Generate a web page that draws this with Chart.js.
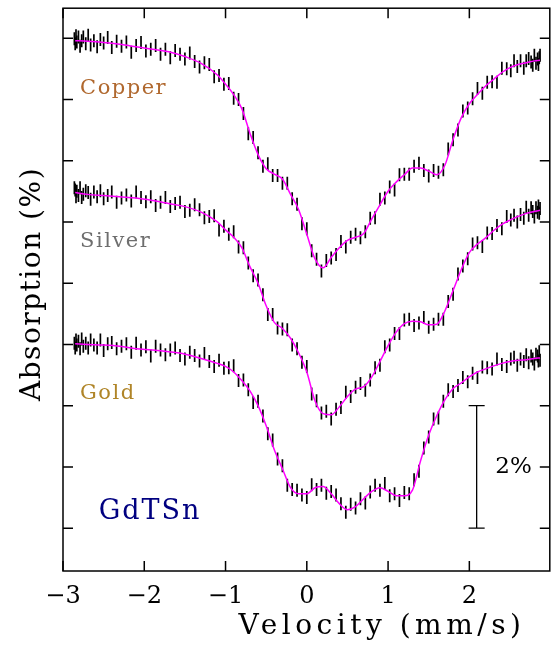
<!DOCTYPE html>
<html lang="en">
<head>
<meta charset="UTF-8" />
<title>GdTSn Mossbauer spectra</title>
<script src="https://cdn.jsdelivr.net/npm/chart.js"></script>
<style>
  body { margin: 0; background: #fff; }
  canvas { display: block; }
</style>
</head>
<body>
<canvas id="spectra" width="558" height="648"></canvas>
<script>
  // measured channels (velocity in mm/s), absorption offsets in %
  const velocity = [-2.86,-2.85,-2.84,-2.83,-2.81,-2.79,-2.77,-2.75,-2.72,-2.69,
    -2.66,-2.62,-2.58,-2.54,-2.50,-2.45,-2.40,-2.34,-2.28,-2.22,
    -2.16,-2.10,-2.04,-1.98,-1.92,-1.86,-1.80,-1.74,-1.68,-1.62,
    -1.56,-1.50,-1.44,-1.38,-1.32,-1.26,-1.20,-1.14,-1.08,-1.02,
    -0.96,-0.90,-0.84,-0.78,-0.72,-0.66,-0.60,-0.54,-0.48,-0.42,
    -0.36,-0.30,-0.24,-0.18,-0.12,-0.06,0.00,0.06,0.12,0.18,
    0.24,0.30,0.36,0.42,0.48,0.54,0.60,0.66,0.72,0.78,
    0.84,0.90,0.96,1.02,1.08,1.14,1.20,1.26,1.32,1.38,
    1.44,1.50,1.56,1.62,1.68,1.74,1.80,1.86,1.92,1.98,
    2.04,2.10,2.16,2.22,2.28,2.34,2.40,2.46,2.51,2.55,
    2.59,2.63,2.67,2.70,2.73,2.76,2.78,2.80,2.82,2.84,
    2.85,2.86,2.87];

  const copperAbs = [7.99,7.91,8.04,7.94,8.02,7.87,7.96,8.02,7.91,8.05,
    7.89,7.96,7.86,7.98,7.92,8.01,7.85,7.95,7.87,7.94,
    7.77,7.88,7.93,7.79,7.82,7.88,7.74,7.82,7.68,7.80,
    7.74,7.66,7.76,7.62,7.53,7.60,7.57,7.37,7.39,7.25,
    7.26,7.02,7.00,6.77,6.44,6.38,6.13,5.91,5.95,5.76,
    5.76,5.63,5.63,5.38,5.29,4.97,4.89,4.53,4.39,4.20,
    4.37,4.41,4.47,4.68,4.59,4.75,4.80,4.74,4.84,5.06,
    5.07,5.37,5.39,5.57,5.52,5.77,5.78,5.78,5.91,5.96,
    5.84,5.75,5.84,5.81,5.85,6.19,6.34,6.50,6.81,6.86,
    7.01,7.18,7.10,7.28,7.29,7.28,7.51,7.50,7.47,7.63,
    7.54,7.63,7.51,7.63,7.67,7.61,7.56,7.72,7.59,7.66,
    7.57,7.68,7.72];

  const silverAbs = [5.56,5.52,5.41,5.50,5.43,5.56,5.40,5.45,5.51,5.48,
    5.37,5.49,5.41,5.51,5.38,5.43,5.49,5.32,5.39,5.44,
    5.34,5.49,5.40,5.33,5.41,5.27,5.32,5.40,5.25,5.30,
    5.32,5.17,5.19,5.28,5.20,5.07,5.09,5.10,4.87,4.93,
    4.80,4.84,4.59,4.58,4.33,4.12,4.05,3.81,3.49,3.49,
    3.27,3.25,3.24,2.99,2.93,2.71,2.64,2.19,2.08,1.88,
    1.91,1.78,1.94,1.97,2.22,2.15,2.30,2.36,2.25,2.42,
    2.62,2.66,2.96,2.99,3.18,3.18,3.40,3.41,3.31,3.35,
    3.44,3.28,3.33,3.41,3.41,3.70,3.82,4.15,4.28,4.40,
    4.64,4.66,4.60,4.82,4.81,4.94,4.89,5.09,5.03,5.11,
    5.00,5.12,5.06,5.24,5.11,5.23,5.17,5.08,5.23,5.16,
    5.26,5.14,5.22];

  const goldAbs = [3.02,2.94,3.07,2.99,3.05,2.93,3.09,2.97,3.02,2.94,
    3.07,2.99,2.94,3.07,2.90,3.01,3.03,2.93,2.97,3.01,
    2.87,3.02,2.91,2.96,2.81,2.97,2.91,2.83,2.91,2.94,
    2.82,2.76,2.87,2.82,2.73,2.85,2.72,2.64,2.74,2.61,
    2.62,2.65,2.41,2.42,2.26,2.05,2.07,1.83,1.54,1.44,
    1.13,1.02,0.70,0.63,0.62,0.54,0.50,0.71,0.63,0.70,
    0.57,0.60,0.54,0.40,0.26,0.39,0.33,0.48,0.41,0.59,
    0.70,0.62,0.73,0.53,0.56,0.45,0.58,0.56,0.79,0.93,
    1.31,1.49,1.78,1.80,2.07,2.26,2.23,2.33,2.46,2.39,
    2.53,2.46,2.63,2.62,2.60,2.76,2.67,2.64,2.76,2.79,
    2.66,2.76,2.72,2.83,2.70,2.81,2.76,2.68,2.84,2.81,
    2.73,2.88,2.74];

  // fitted curves
  const fitVelocity = [-2.85,-2.7,-2.5,-2.3,-2.1,-1.9,-1.7,-1.5,-1.3,-1.1,
    -1.0,-0.9,-0.8,-0.7,-0.6,-0.5,-0.4,-0.3,-0.2,-0.1,
    0.0,0.1,0.2,0.3,0.4,0.5,0.6,0.7,0.8,0.9,
    1.0,1.1,1.2,1.3,1.4,1.5,1.6,1.7,1.8,1.9,
    2.0,2.1,2.2,2.3,2.4,2.5,2.6,2.7,2.8,2.87];
  const copperFit = [7.96,7.95,7.93,7.90,7.86,7.82,7.78,7.70,7.59,7.40,
    7.25,7.08,6.85,6.45,6.10,5.87,5.78,5.70,5.45,5.20,
    4.80,4.40,4.25,4.42,4.58,4.70,4.75,4.81,5.05,5.28,
    5.50,5.65,5.77,5.88,5.88,5.83,5.77,5.93,6.35,6.70,
    6.93,7.08,7.22,7.33,7.44,7.52,7.57,7.60,7.63,7.64];
  const silverFit = [5.48,5.45,5.43,5.41,5.39,5.35,5.30,5.25,5.16,5.00,
    4.87,4.75,4.58,4.27,4.00,3.63,3.36,3.26,3.10,2.86,
    2.55,2.08,1.87,1.85,1.98,2.15,2.27,2.31,2.47,2.72,
    2.98,3.20,3.34,3.38,3.37,3.32,3.33,3.55,3.88,4.22,
    4.50,4.64,4.74,4.86,4.96,5.03,5.09,5.14,5.17,5.19];
  const goldFit = [3.01,3.00,2.99,2.97,2.93,2.91,2.88,2.84,2.77,2.69,
    2.64,2.55,2.41,2.24,2.00,1.67,1.28,0.97,0.66,0.56,
    0.56,0.66,0.68,0.56,0.40,0.30,0.35,0.48,0.60,0.66,
    0.60,0.53,0.53,0.62,1.10,1.52,1.84,2.10,2.28,2.37,
    2.47,2.55,2.60,2.65,2.69,2.72,2.74,2.75,2.77,2.78];

  const xTickValues = [-3, -2, -1, 0, 1, 2];
  const yTickValues = [0, 1, 2, 3, 4, 5, 6, 7, 8];
  const sampleNames = ['Copper', 'Silver', 'Gold'];
  const compound = 'GdTSn';
  const scaleBarPct = 2;

  const serif = '"DejaVu Serif", serif';
  const pts = (xs, ys) => xs.map((x, i) => ({ x, y: ys[i] }));

  const dataStyle = {
    type: 'scatter', order: 1,
    pointStyle: 'line', rotation: 90, radius: 6.5, hoverRadius: 6.5,
    borderColor: '#000', borderWidth: 1.7, backgroundColor: '#000'
  };
  const fitStyle = {
    type: 'line', order: 0, pointRadius: 0, borderColor: '#ff00ff',
    borderWidth: 1.5, fill: false, cubicInterpolationMode: 'monotone'
  };

  const decorations = {
    id: 'decorations',
    afterDraw(chart) {
      const { ctx, chartArea: a, scales: { x, y } } = chart;
      ctx.save();
      // frame with inward ticks
      ctx.strokeStyle = '#000';
      ctx.lineWidth = 1.5;
      ctx.strokeRect(a.left, a.top, a.right - a.left, a.bottom - a.top);
      ctx.beginPath();
      x.ticks.forEach(t => {
        const px = x.getPixelForValue(t.value);
        ctx.moveTo(px, a.bottom); ctx.lineTo(px, a.bottom - 10);
        ctx.moveTo(px, a.top); ctx.lineTo(px, a.top + 10);
      });
      y.ticks.forEach(t => {
        const py = y.getPixelForValue(t.value);
        ctx.moveTo(a.left, py); ctx.lineTo(a.left + 10, py);
        ctx.moveTo(a.right, py); ctx.lineTo(a.right - 10, py);
      });
      ctx.stroke();

      // 2% scale bar
      const bx = x.getPixelForValue(2.09);
      const b0 = y.getPixelForValue(0), b1 = y.getPixelForValue(scaleBarPct);
      ctx.lineWidth = 1.3;
      ctx.beginPath();
      ctx.moveTo(bx, b0); ctx.lineTo(bx, b1);
      ctx.moveTo(bx - 8, b0); ctx.lineTo(bx + 8, b0);
      ctx.moveTo(bx - 8, b1); ctx.lineTo(bx + 8, b1);
      ctx.stroke();
      ctx.fillStyle = '#000';
      ctx.font = '23px ' + serif;
      ctx.textBaseline = 'middle';
      ctx.textAlign = 'left';
      ctx.fillText(scaleBarPct + '%', x.getPixelForValue(2.32), y.getPixelForValue(1.0));

      // sample names
      ctx.font = '21px ' + serif;
      ctx.letterSpacing = '1.5px';
      const nameColors = ['#b0682e', '#6e6e6e', '#b08528'];
      const nameY = [7.18, 4.68, 2.19];
      sampleNames.forEach((n, i) => {
        ctx.fillStyle = nameColors[i];
        ctx.fillText(n, x.getPixelForValue(-2.79), y.getPixelForValue(nameY[i]));
      });
      ctx.font = '27px ' + serif;
      ctx.letterSpacing = '2px';
      ctx.fillStyle = '#000080';
      ctx.fillText(compound, x.getPixelForValue(-2.56), y.getPixelForValue(0.26));

      // axis titles
      ctx.fillStyle = '#000';
      ctx.font = '28px ' + serif;
      ctx.letterSpacing = '4.5px';
      ctx.textAlign = 'center';
      ctx.fillText('Velocity (mm/s)', 382, 627);
      ctx.letterSpacing = '1.5px';
      ctx.translate(33, 284);
      ctx.rotate(-Math.PI / 2);
      ctx.fillText('Absorption (%)', 0, 0);
      ctx.restore();
    }
  };

  new Chart(document.getElementById('spectra'), {
    data: {
      datasets: [
        { ...fitStyle, data: pts(fitVelocity, copperFit) },
        { ...fitStyle, data: pts(fitVelocity, silverFit) },
        { ...fitStyle, data: pts(fitVelocity, goldFit) },
        { ...dataStyle, data: pts(velocity, copperAbs) },
        { ...dataStyle, data: pts(velocity, silverAbs) },
        { ...dataStyle, data: pts(velocity, goldAbs) }
      ]
    },
    options: {
      responsive: false,
      animation: false,
      devicePixelRatio: 1,
      layout: { padding: { top: 5, right: 1, left: 0, bottom: 0 } },
      plugins: { legend: { display: false }, tooltip: { enabled: false } },
      scales: {
        x: {
          type: 'linear', position: 'bottom', min: -3, max: 2.99,
          grid: { display: false, drawTicks: false },
          border: { display: false },
          afterBuildTicks: s => { s.ticks = xTickValues.map(v => ({ value: v })); },
          afterFit: s => { s.height = 77; },
          ticks: {
            padding: 11, color: '#000', maxRotation: 0,
            font: { family: serif, size: 24 },
            callback: v => String(v).replace('-', '\u2212')
          }
        },
        y: {
          type: 'linear', min: -0.7, max: 8.49,
          grid: { display: false, drawTicks: false },
          border: { display: false },
          afterBuildTicks: s => { s.ticks = yTickValues.map(v => ({ value: v })); },
          afterFit: s => { s.width = 63; },
          ticks: { display: false }
        }
      }
    },
    plugins: [decorations]
  });
</script>
</body>
</html>
